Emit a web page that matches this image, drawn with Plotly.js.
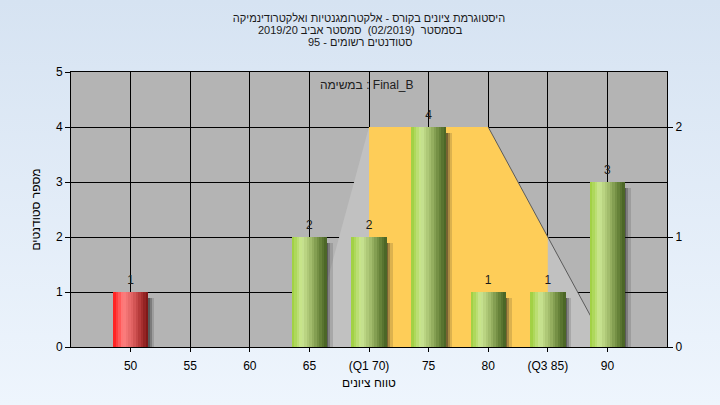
<!DOCTYPE html>
<html><head><meta charset="utf-8">
<script src="https://cdn.plot.ly/plotly-3.0.1.min.js"></script>
<style>
html,body{margin:0;padding:0;width:720px;height:405px;overflow:hidden;background:linear-gradient(#d6e3f2,#eef5fd);}
#chart{width:720px;height:405px;}
</style>
</head><body><div id="chart"></div>
<script>
// ---- data ----
const categories = [50, 55, 60, 65, 70, 75, 80, 85, 90];
const tickLabels = ['50', '55', '60', '65', '(Q1 70)', '75', '80', '(Q3 85)', '90'];
const counts = [1, 0, 0, 2, 2, 4, 1, 1, 3];
const failing = [true, false, false, false, false, false, false, false, false];
// spread band (right axis scale)
const bandX = [65, 70, 80, 90];
const bandY = [0, 2, 2, 0];
// Q1-Q3 box (right axis scale)
const boxX = [70, 80, 85, 85, 70];
const boxY = [2, 2, 1, 0, 0];

const titleLine1 = '\u202Bהיסטוגרמת ציונים בקורס - אלקטרומגנטיות ואלקטרודינמיקה\u202C';
const titleLine2 = '\u202Bבסמסטר  (02/2019)  סמסטר אביב 2019/20\u202C';
const titleLine3 = '\u202Bסטודנטים רשומים\u202C - 95';
const taskLabel = 'במשימה : Final_B';
const xTitle = 'טווח ציונים';
const yTitle = 'מספר סטודנטים';

// ---- styling helpers ----
const FONT = 'Liberation Sans, Arial, DejaVu Sans, sans-serif';
const greenStops = [[0, [156, 206, 58]], [0.28, [204, 231, 148]], [0.55, [160, 186, 106]], [0.8, [106, 134, 60]], [1, [70, 96, 34]]];
const redStops = [[0, [255, 24, 24]], [0.28, [255, 128, 128]], [0.55, [222, 96, 96]], [0.8, [172, 50, 50]], [1, [120, 20, 20]]];
function interp(stops, t) {
  for (let k = 1; k < stops.length; k++) {
    if (t <= stops[k][0]) {
      const a = stops[k - 1], b = stops[k];
      const f = (t - a[0]) / (b[0] - a[0]);
      const c = a[1].map((v, j) => Math.round(v + (b[1][j] - v) * f));
      return 'rgb(' + c.join(',') + ')';
    }
  }
  return 'rgb(' + stops[stops.length - 1][1].join(',') + ')';
}

const W = 2.95;      // bar width in x units
const N = 14;        // gradient strips
const traces = [];

// band & box on main (right) axis
traces.push({type: 'scatter', x: bandX, y: bandY, xaxis: 'x', yaxis: 'y', mode: 'none',
  fill: 'toself', fillcolor: '#c1c1c1', hoverinfo: 'skip', showlegend: false});
traces.push({type: 'scatter', x: boxX, y: boxY, xaxis: 'x', yaxis: 'y', mode: 'none',
  fill: 'toself', fillcolor: '#fecd58', hoverinfo: 'skip', showlegend: false});
traces.push({type: 'scatter', x: bandX.slice(2), y: bandY.slice(2), xaxis: 'x', yaxis: 'y', mode: 'lines',
  line: {color: '#5a5a5a', width: 1}, hoverinfo: 'skip', showlegend: false});

// soft shadows
const shadowY = counts.map(v => v > 0 ? v - 0.1 : 0);
[[0.12, 'rgba(25,25,25,0.35)'], [0.28, 'rgba(25,25,25,0.25)'], [0.5, 'rgba(25,25,25,0.15)']].forEach(s => {
  traces.push({type: 'bar', x: categories, y: shadowY, xaxis: 'x', yaxis: 'y2',
    width: W, offset: -W / 2 + s[0], marker: {color: s[1], line: {width: 0}},
    hoverinfo: 'skip', showlegend: false});
});

// gradient strips
for (let i = 0; i < N; i++) {
  const t = (i + 0.5) / N;
  traces.push({type: 'bar', x: categories, y: counts, xaxis: 'x', yaxis: 'y2',
    width: W / N * 1.08, offset: -W / 2 + i * W / N,
    marker: {color: failing.map(f => interp(f ? redStops : greenStops, t)), line: {width: 0}},
    hoverinfo: 'skip', showlegend: false});
}

// value labels
const lx = [], ly = [], lt = [];
categories.forEach((c, i) => { if (counts[i] > 0) { lx.push(c); ly.push(counts[i]); lt.push(String(counts[i])); } });
traces.push({type: 'scatter', x: lx, y: ly, text: lt, xaxis: 'x', yaxis: 'y2', mode: 'markers+text',
  marker: {size: 6, color: 'rgba(0,0,0,0)'},
  textposition: 'top center', textfont: {family: FONT, size: 12, color: '#1a1a1a'},
  hoverinfo: 'skip', showlegend: false, cliponaxis: false});

const layout = {
  width: 720, height: 405,
  paper_bgcolor: 'rgba(0,0,0,0)', plot_bgcolor: '#b4b4b4',
  margin: {l: 71, r: 53, t: 72, b: 58},
  barmode: 'overlay', bargap: 0,
  showlegend: false,
  font: {family: FONT, size: 12, color: '#000'},
  title: {text: titleLine1, x: 0.5, xanchor: 'center', xref: 'paper', y: 1 - 18 / 405, yanchor: 'middle', yref: 'container',
    font: {family: FONT, size: 11, color: '#1a1a1a'}},
  xaxis: {range: [45, 95], tickvals: categories, ticktext: tickLabels,
    showgrid: true, gridcolor: '#000', gridwidth: 1, zeroline: false,
    showline: true, linecolor: '#000', linewidth: 1, mirror: true,
    ticks: 'outside', ticklen: 4, tickcolor: '#000', ticklabelstandoff: 4,
    tickfont: {family: FONT, size: 12, color: '#000'},
    title: {text: xTitle, font: {family: FONT, size: 12, color: '#000'}, standoff: 6}},
  yaxis: {range: [0, 2.5], side: 'right', tickvals: [0, 1, 2],
    showgrid: false, zeroline: false, showline: true, linecolor: '#000', linewidth: 1,
    ticks: 'outside', ticklen: 5, tickcolor: '#000',
    tickfont: {family: FONT, size: 12, color: '#000'}},
  yaxis2: {range: [0, 5], side: 'left', overlaying: 'y', dtick: 1,
    showgrid: true, gridcolor: '#000', gridwidth: 1, zeroline: false,
    showline: true, linecolor: '#000', linewidth: 1,
    ticks: 'outside', ticklen: 5, tickcolor: '#000',
    tickfont: {family: FONT, size: 12, color: '#000'},
    title: {text: yTitle, font: {family: FONT, size: 12, color: '#000'}, standoff: 12}},
  annotations: [
    {text: titleLine2, xref: 'paper', yref: 'paper', x: 0.485, y: (347 - 30) / 275, xanchor: 'center', yanchor: 'middle',
      showarrow: false, font: {family: FONT, size: 11, color: '#1a1a1a'}},
    {text: titleLine3, xref: 'paper', yref: 'paper', x: 0.485, y: (347 - 42) / 275, xanchor: 'center', yanchor: 'middle',
      showarrow: false, font: {family: FONT, size: 11, color: '#1a1a1a'}},
    {text: taskLabel, xref: 'paper', yref: 'paper', x: (367 - 71) / 596, y: (347 - 85) / 275, xanchor: 'center', yanchor: 'middle',
      showarrow: false, font: {family: FONT, size: 12, color: '#202020'}}
  ]
};

Plotly.newPlot('chart', traces, layout, {displayModeBar: false, staticPlot: true});
</script>
</body></html>
